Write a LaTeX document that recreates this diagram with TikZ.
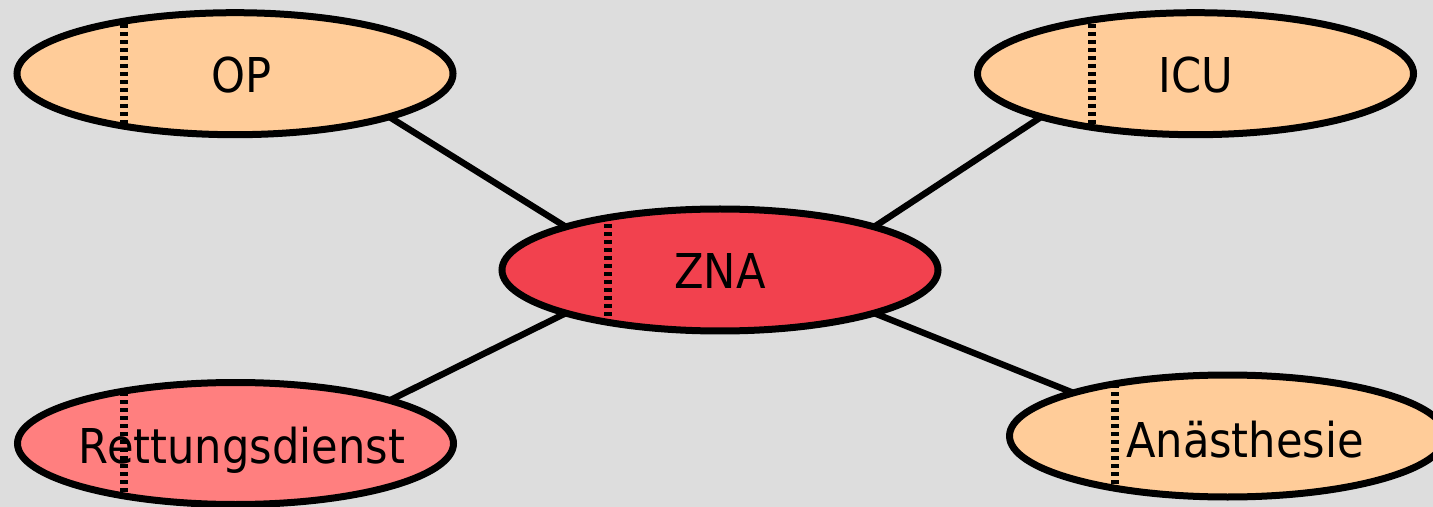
\documentclass[tikz,border=0pt]{standalone}
\usepackage{fontspec}
\setmainfont{DejaVu Sans}[FakeStretch=0.9]
\usetikzlibrary{backgrounds,shapes.geometric}
\definecolor{bg}{HTML}{DDDDDD}
\definecolor{peach}{HTML}{FFCC99}
\definecolor{zna}{HTML}{F2414E}
\definecolor{rett}{HTML}{FF7F7F}
\tikzset{
  unit/.style={ellipse, draw=black, line width=3.5pt, minimum width=218pt, minimum height=61pt, inner sep=0pt, outer sep=0pt},
  lbl/.style={anchor=base, inner sep=0pt, font=\fontsize{24}{28}\selectfont},
  divider/.style={line width=3.8pt, dash pattern=on 2pt off 2pt},
  link/.style={line width=3.2pt}
}
\newcommand{\divline}[2]{%
  \begin{scope}
    \clip (#1.center) ellipse [x radius=109pt, y radius=30.5pt];
    \draw[divider] (#2,0) -- (#2,507);
  \end{scope}}
\begin{document}
\begin{tikzpicture}[x=0.5pt,y=-0.5pt]
\useasboundingbox (0,0) rectangle (1433,507);
\clip (0,0) rectangle (1433,507);
\node[unit, fill=peach] (OP) at (235,73.7) {};
\node[unit, fill=peach] (ICU) at (1195.5,73.7) {};
\node[unit, fill=zna] (ZNA) at (720,270) {};
\node[unit, fill=rett] (RD) at (235.5,443.5) {};
\node[unit, fill=peach] (AN) at (1227.5,436) {};
\divline{OP}{124}
\divline{ICU}{1092}
\divline{ZNA}{608}
\divline{RD}{124}
\divline{AN}{1115}
\node[lbl] (OPt) at (242,93) {OP};
\node[lbl] (ICUt) at (1196,93) {ICU};
\node[lbl] (ZNAt) at (720,289) {ZNA};
\node[lbl] (RDt) at (242,463) {Rettungsdienst};
\node[lbl] (ANt) at (1245,457) {Anästhesie};
\begin{pgfonlayer}{background}
  \fill[bg] (0,0) rectangle (1433,507);
  \draw[link] (ZNA.north west) -- (OP.south east);
  \draw[link] (ZNA.north east) -- (ICU.south west);
  \draw[link] (ZNA.south west) -- (RD.north east);
  \draw[link] (ZNA.south east) -- (AN.north west);
\end{pgfonlayer}
\end{tikzpicture}
\end{document}
